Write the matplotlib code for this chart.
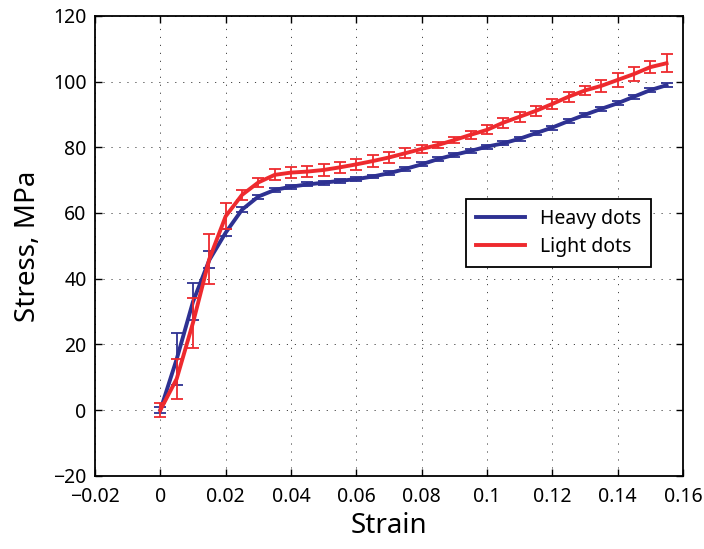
import numpy as np
import matplotlib
matplotlib.use('Agg')
import matplotlib.pyplot as plt

plt.rcParams['font.family'] = ['Noto Sans', 'DejaVu Sans']

# strain values, one point every 0.005
strain = np.arange(32) * 0.005

heavy = [0, 15.5, 33, 45.7, 54, 61, 65, 67, 68.0, 68.7, 69.2, 69.8, 70.3, 71.1,
         72.1, 73.4, 74.8, 76.4, 77.7, 78.9, 80.2, 81.2, 82.6, 84.3, 86.0, 88.0,
         89.9, 91.7, 93.4, 95.4, 97.4, 98.9]
heavy_err = [0.8, 8, 5.7, 2.6, 1, 0.8, 0.6, 0.6, 0.6, 0.6, 0.6, 0.6, 0.6, 0.6,
             0.6, 0.6, 0.6, 0.6, 0.6, 0.6, 0.6, 0.6, 0.6, 0.6, 0.6, 0.6,
             0.6, 0.6, 0.6, 0.6, 0.6, 0.6]

light = [0, 9.5, 26.6, 46, 59, 65.5, 69.3, 71.6, 72.3, 72.6, 73.1, 73.9, 74.8, 75.8,
         76.9, 78.2, 79.5, 80.7, 82.2, 83.8, 85.3, 87.5, 89.3, 91.1, 93.2, 95.4,
         97.3, 98.7, 100.5, 102.3, 104.4, 105.6]
light_err = [2, 6, 7.6, 7.6, 4, 1.5, 1.5, 1.7, 1.7, 1.7, 1.7, 1.7, 1.7, 1.8,
             1.8, 1.5, 1.2, 1.0, 1.0, 1.2, 1.4, 1.5, 1.5, 1.5, 1.5, 1.5,
             1.5, 1.8, 2.0, 2.2, 1.9, 2.7]

xtick_labels = ['\u22120.02', '0', '0.02', '0.04', '0.06', '0.08', '0.1',
                '0.12', '0.14', '0.16']

blue = '#2e3192'
red = '#ee2a2e'

fig = plt.figure(figsize=(7.04, 5.49), dpi=100)
ax = fig.add_axes([0.135, 0.1335, 0.835, 0.8375])

ax.errorbar(strain, heavy, yerr=heavy_err, fmt='none', ecolor=blue, elinewidth=1.3,
            capsize=4, capthick=1.3)
ax.plot(strain, heavy, color=blue, lw=2.8, label='Heavy dots')
ax.errorbar(strain, light, yerr=light_err, fmt='none', ecolor=red, elinewidth=1.3,
            capsize=4, capthick=1.3)
ax.plot(strain, light, color=red, lw=2.8, label='Light dots')

ax.set_xlim(-0.02, 0.16)
ax.set_ylim(-20, 120)
ax.set_xticks(np.arange(-0.02, 0.161, 0.02))
ax.set_xticklabels(xtick_labels)
ax.set_yticks(np.arange(-20, 121, 20))

ax.grid(True, color='#444444', linestyle=(0, (1.2, 7)), linewidth=0.7)
ax.tick_params(direction='in', top=True, right=True, length=5, width=1,
               labelsize=14)
ax.tick_params(axis='x', pad=8)
ax.tick_params(axis='y', pad=6)
for s in ax.spines.values():
    s.set_linewidth(1.3)

ax.set_xlabel('Strain', fontsize=20, labelpad=4)
ax.set_ylabel('Stress, MPa', fontsize=20, labelpad=8)

leg = ax.legend(loc='upper left', bbox_to_anchor=(0.615, 0.622), fontsize=14,
                fancybox=False, framealpha=1, edgecolor='black', handlelength=2.5,
                borderpad=0.5, labelspacing=0.4)
leg.get_frame().set_linewidth(1.3)

fig.savefig('out.png', dpi=100)
